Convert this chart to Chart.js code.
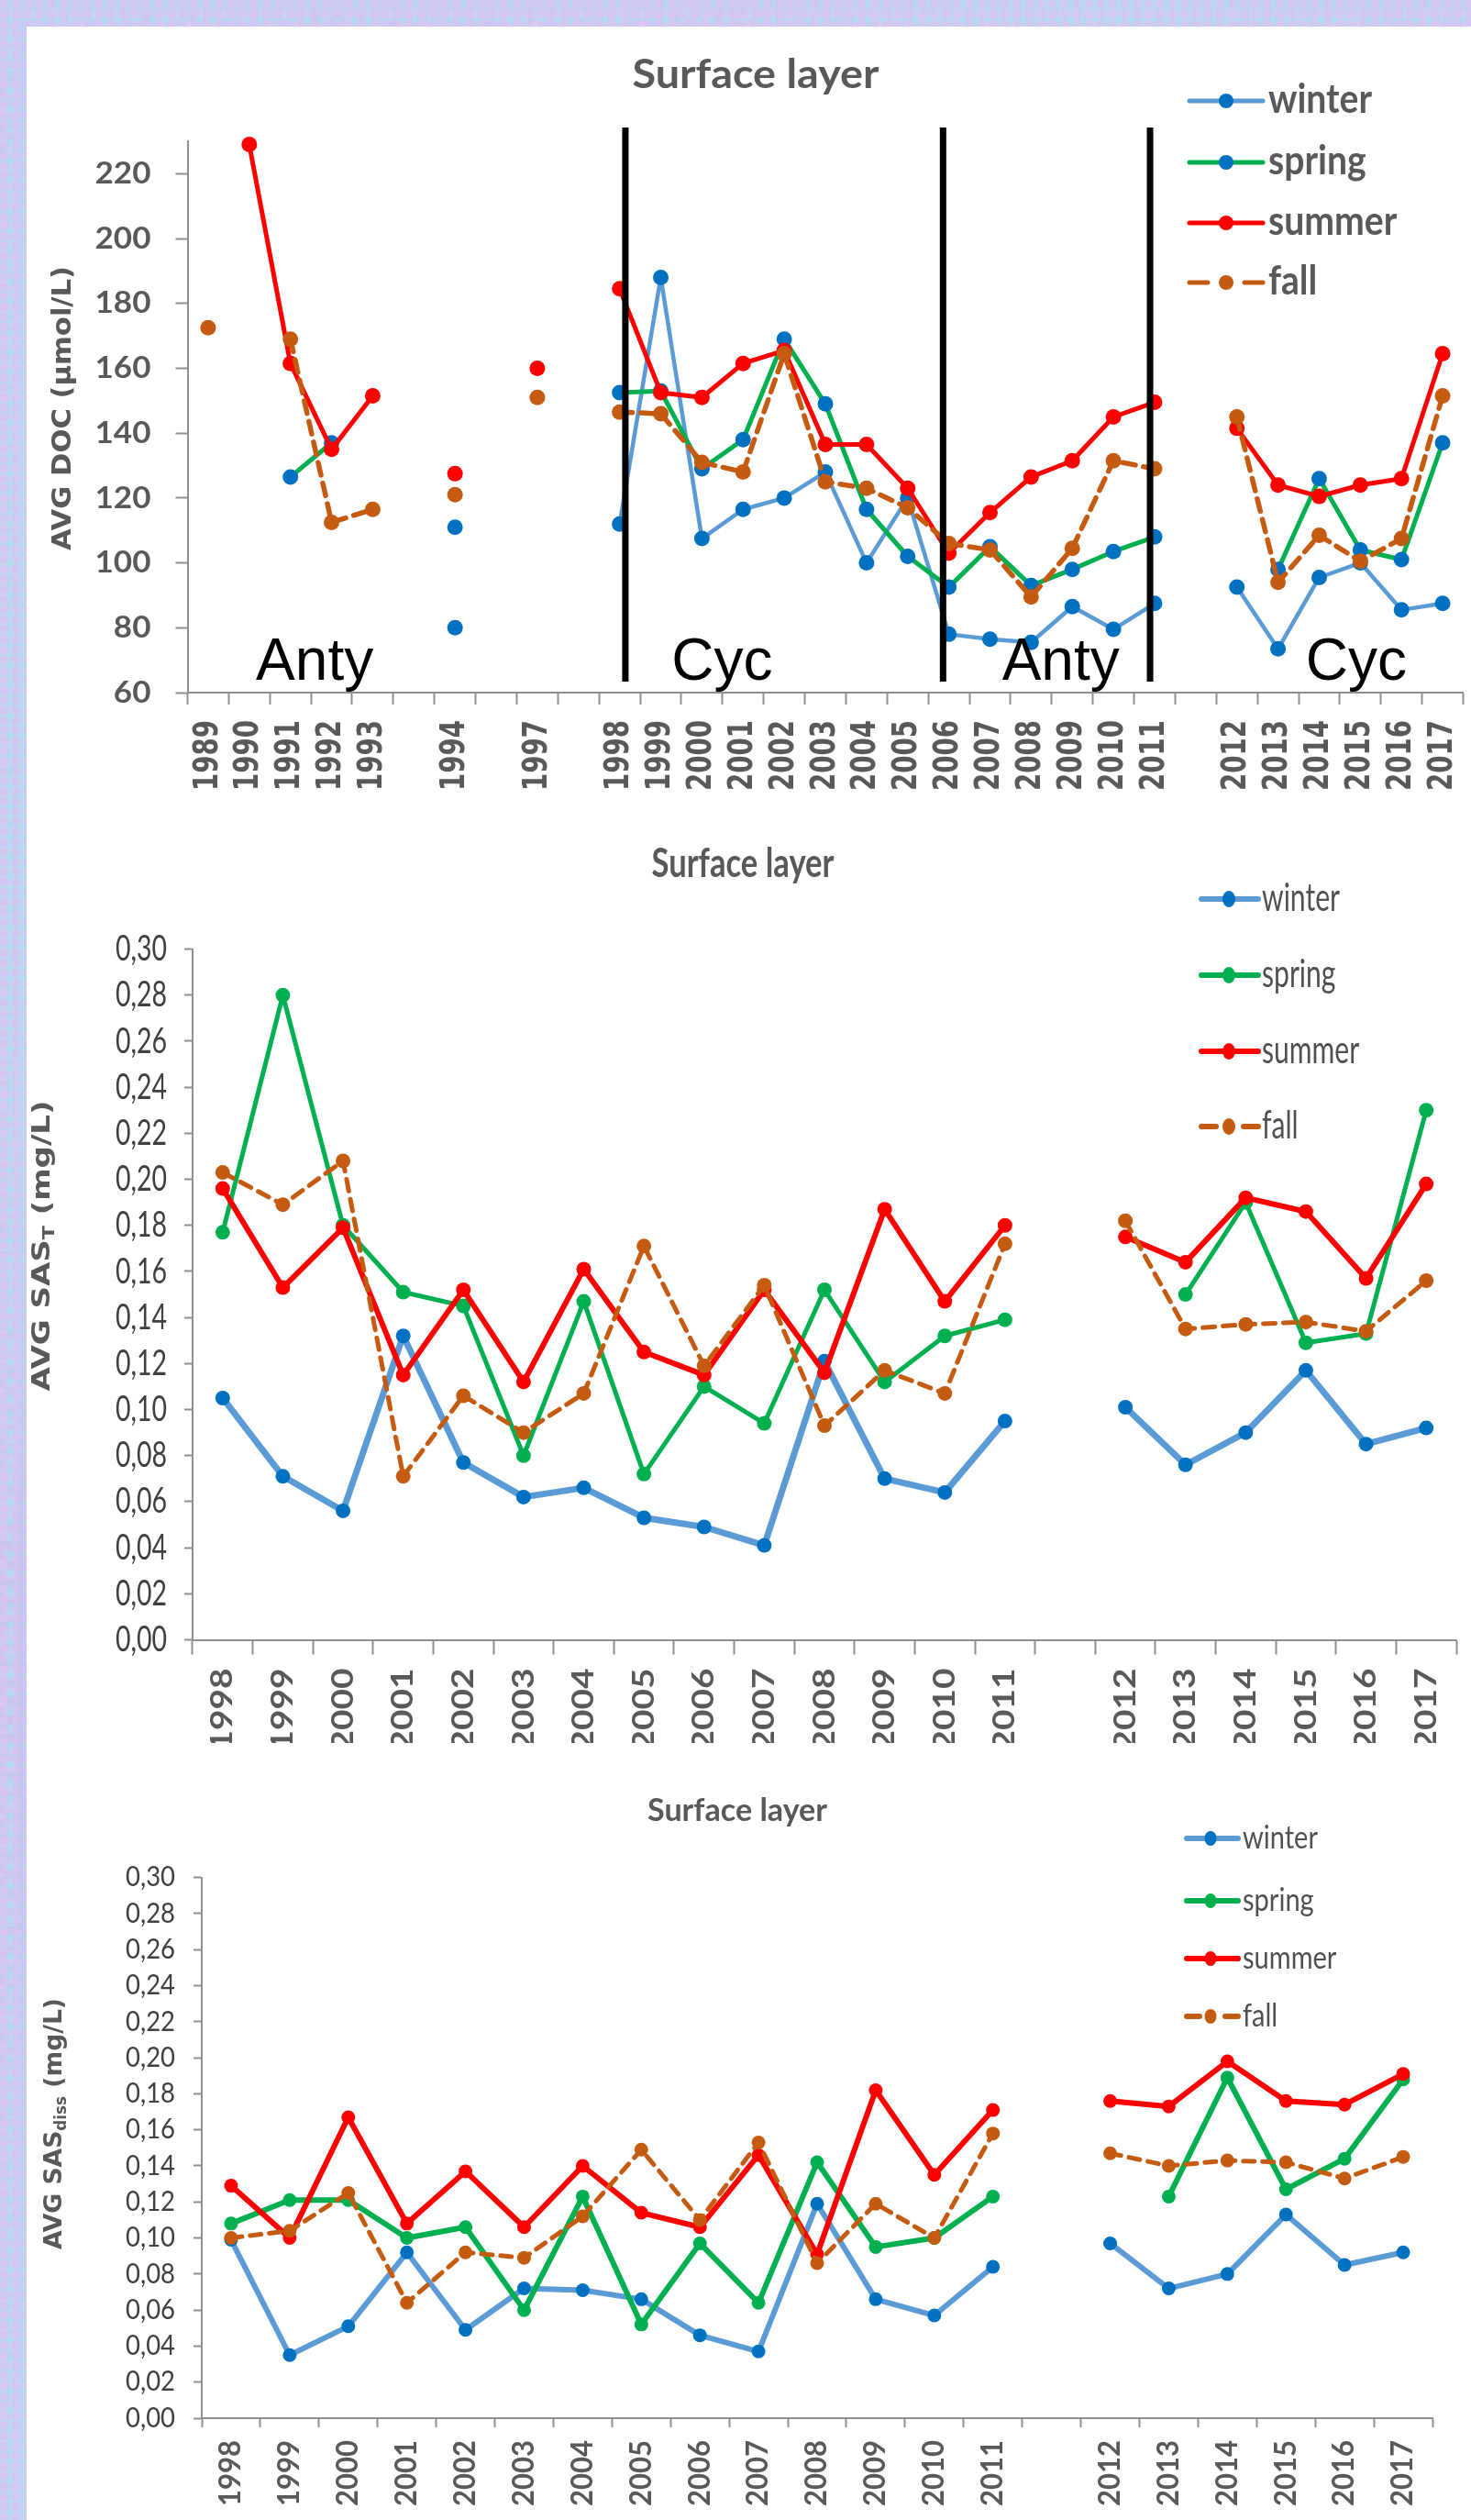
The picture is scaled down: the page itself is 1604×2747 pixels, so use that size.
<!DOCTYPE html>
<html>
<head>
<meta charset="utf-8">
<title>Surface layer – DOC and SAS</title>
<script src="https://cdn.jsdelivr.net/npm/chart.js@4.4.1/dist/chart.umd.min.js"></script>
<style>
  html, body { margin: 0; padding: 0; }
  body {
    width: 1604px; height: 2747px; position: relative; overflow: hidden;
    background-color: #bfd2f1;
    background-image:
      radial-gradient(circle at 30% 40%, rgba(214,196,242,.9) 0 3px, rgba(214,196,242,0) 7px),
      radial-gradient(circle at 70% 20%, rgba(168,224,242,.85) 0 2px, rgba(168,224,242,0) 6px),
      radial-gradient(circle at 50% 80%, rgba(196,212,250,.9) 0 4px, rgba(196,212,250,0) 9px),
      radial-gradient(circle at 10% 90%, rgba(228,206,242,.8) 0 2px, rgba(228,206,242,0) 5px),
      linear-gradient(90deg, rgba(190,210,245,.0) 0%, rgba(215,195,240,.5) 50%, rgba(180,225,240,.4) 75%, rgba(205,200,240,.5) 100%),
      linear-gradient(180deg, #c2cdf2 0%, #b9dcf0 35%, #c8c4ee 65%, #bcd6f2 100%);
    background-size: 13px 11px, 17px 19px, 23px 21px, 29px 31px, 100% 100%, 100% 100%;
  }
  #sheet { position: absolute; left: 29px; top: 29px; right: 0; bottom: 0; background: #ffffff; }
  canvas { position: absolute; left: 0; }
</style>
</head>
<body>
<div id="sheet"></div>
<canvas id="docChart" width="1604" height="900" style="top:0px"></canvas>
<canvas id="sasTChart" width="1604" height="1000" style="top:900px"></canvas>
<canvas id="sasDissChart" width="1604" height="847" style="top:1900px"></canvas>

<script>
// ---------- data ----------
// AVG DOC (µmol/L), surface layer; '' marks an empty slot on the axis
const docYears = ['1989','1990','1991','1992','1993','','1994','','1997','','1998','1999','2000','2001','2002','2003','2004','2005','2006','2007','2008','2009','2010','2011','','2012','2013','2014','2015','2016','2017'];
const docWinter = [null,null,null,null,null,null,80,null,null,null,112,188,107.5,116.5,120,128,100,120,78,76.5,75.5,86.5,79.5,87.5,null,92.5,73.5,95.5,100,85.5,87.5];
const docSpring = [null,null,126.5,137,null,null,111,null,null,null,152.5,153,129,138,169,149,116.5,102,92.5,105,93,98,103.5,108,null,null,98,126,104,101,137];
const docSummer = [null,229,161.5,135,151.5,null,127.5,null,160,null,184.5,152.5,151,161.5,165.5,136.5,136.5,123,103,115.5,126.5,131.5,145,149.5,null,141.5,124,120.5,124,126,164.5];
const docFall   = [172.5,null,169,112.5,116.5,null,121,null,151,null,146.5,146,131,128,164.5,125,123,117,106,104,89.5,104.5,131.5,129,null,145,94,108.5,100.5,107.5,151.5];

// period labels on the DOC panel
const periodNames = ['Anty','Cyc','Anty','Cyc'];

// SAS years
const sasYears = ['1998','1999','2000','2001','2002','2003','2004','2005','2006','2007','2008','2009','2010','2011','','2012','2013','2014','2015','2016','2017'];

// AVG SAS_T (mg/L)
const sasTWinter = [0.105,0.071,0.056,0.132,0.077,0.062,0.066,0.053,0.049,0.041,0.121,0.070,0.064,0.095,null,0.101,0.076,0.090,0.117,0.085,0.092];
const sasTSpring = [0.177,0.280,0.180,0.151,0.145,0.080,0.147,0.072,0.110,0.094,0.152,0.112,0.132,0.139,null,null,0.150,0.190,0.129,0.133,0.230];
const sasTSummer = [0.196,0.153,0.179,0.115,0.152,0.112,0.161,0.125,0.115,0.152,0.116,0.187,0.147,0.180,null,0.175,0.164,0.192,0.186,0.157,0.198];
const sasTFall   = [0.203,0.189,0.208,0.071,0.106,0.090,0.107,0.171,0.119,0.154,0.093,0.117,0.107,0.172,null,0.182,0.135,0.137,0.138,0.134,0.156];

// AVG SAS_diss (mg/L)
const sasDWinter = [0.099,0.035,0.051,0.092,0.049,0.072,0.071,0.066,0.046,0.037,0.119,0.066,0.057,0.084,null,0.097,0.072,0.080,0.113,0.085,0.092];
const sasDSpring = [0.108,0.121,0.121,0.100,0.106,0.060,0.123,0.052,0.097,0.064,0.142,0.095,0.100,0.123,null,null,0.123,0.189,0.127,0.144,0.188];
const sasDSummer = [0.129,0.100,0.167,0.108,0.137,0.106,0.140,0.114,0.106,0.146,0.091,0.182,0.135,0.171,null,0.176,0.173,0.198,0.176,0.174,0.191];
const sasDFall   = [0.100,0.104,0.125,0.064,0.092,0.089,0.112,0.149,0.110,0.153,0.086,0.119,0.100,0.158,null,0.147,0.140,0.143,0.142,0.133,0.145];

const seasons = ['winter','spring','summer','fall'];

// ---------- styling ----------
const lineColor = { winter: '#5B9BD5', spring: '#00B050', summer: '#FF0000', fall: '#C55A11' };
const drawOrder = { fall: 0, summer: 1, spring: 2, winter: 3 };
const AXIS = '#8f8f8f';
const INK = '#595959';

function seasonSets(series, st) {
  return seasons.map((s, i) => {
    const marker = st.marker[s];
    return {
      label: s,
      data: series[i],
      borderColor: lineColor[s],
      backgroundColor: marker,
      pointBackgroundColor: marker,
      pointBorderColor: marker,
      pointBorderWidth: 0,
      pointRadius: st.radius,
      pointHoverRadius: st.radius,
      borderWidth: st.width[s],
      borderDash: s === 'fall' ? st.dash : [],
      borderCapStyle: s === 'fall' ? 'round' : 'butt',
      borderJoinStyle: 'round',
      tension: 0,
      spanGaps: false,
      clip: false,
      order: drawOrder[s]
    };
  });
}

// ---------- text helpers ----------
function putText(ctx, text, x, y, o) {
  ctx.save();
  ctx.font = o.font;
  ctx.fillStyle = o.color || INK;
  ctx.textAlign = o.align || 'left';
  ctx.textBaseline = o.baseline || 'alphabetic';
  ctx.translate(x, y);
  if (o.rotate) ctx.rotate(o.rotate);
  ctx.scale(o.sx || 1, 1);
  ctx.fillText(text, 0, 0);
  ctx.restore();
}
function stretchFor(ctx, font, sample, width) {
  ctx.save();
  ctx.font = font;
  const w = ctx.measureText(sample).width;
  ctx.restore();
  return w > 0 ? width / w : 1;
}
// rotated axis title made of runs (main text + subscripts)
function putRotatedRuns(ctx, runs, cx, cy, length, color) {
  ctx.save();
  let total = 0;
  runs.forEach(r => { ctx.font = r.font; r.w = ctx.measureText(r.text).width; total += r.w; });
  ctx.translate(cx, cy);
  ctx.rotate(-Math.PI / 2);
  ctx.scale(length / total, 1);
  ctx.fillStyle = color;
  ctx.textBaseline = 'middle';
  ctx.textAlign = 'left';
  let x = -total / 2;
  runs.forEach(r => { ctx.font = r.font; ctx.fillText(r.text, x, r.shift || 0); x += r.w; });
  ctx.restore();
}

// ---------- overlay plugin: titles, tick labels, legend ----------
function panelText(cfg) {
  return {
    id: 'panelText_' + cfg.key,
    afterDraw(chart) {
      const ctx = chart.ctx;
      const xs = chart.scales.x, ys = chart.scales.y;
      const area = chart.chartArea;

      // y tick labels
      const ySx = stretchFor(ctx, cfg.yTick.font, cfg.yTick.sample, cfg.yTick.width);
      ys.ticks.forEach(t => {
        putText(ctx, cfg.yTick.format(t.value), area.left - cfg.yTick.gap, ys.getPixelForValue(t.value),
          { font: cfg.yTick.font, color: cfg.yTick.color, align: 'right', baseline: 'middle', sx: ySx });
      });

      // x tick labels (rotated, reading upward)
      const xSx = stretchFor(ctx, cfg.xTick.font, cfg.xTick.sample, cfg.xTick.length);
      const labels = chart.data.labels;
      xs.ticks.forEach(t => {
        const lab = labels[t.value];
        if (!lab) return;
        putText(ctx, lab, xs.getPixelForValue(t.value), area.bottom + cfg.xTick.gap,
          { font: cfg.xTick.font, color: cfg.xTick.color, align: 'right', baseline: 'middle', rotate: -Math.PI / 2, sx: xSx });
      });

      // y axis title
      putRotatedRuns(ctx, cfg.yTitle.runs, cfg.yTitle.x, cfg.yTitle.y, cfg.yTitle.length, INK);

      // chart title
      const tSx = stretchFor(ctx, cfg.title.font, cfg.title.text, cfg.title.width);
      putText(ctx, cfg.title.text, cfg.title.x, cfg.title.y, { font: cfg.title.font, align: 'center', sx: tSx });

      // legend
      const lg = cfg.legend;
      const lSx = stretchFor(ctx, lg.font, chart.data.datasets[0].label, lg.sampleWidth);
      const byLabel = {};
      chart.data.datasets.forEach(d => { byLabel[d.label] = d; });
      seasons.forEach((s, i) => {
        const d = byLabel[s];
        const y = lg.ys[i];
        ctx.save();
        ctx.strokeStyle = d.borderColor;
        ctx.lineWidth = lg.lineWidth;
        ctx.lineCap = 'round';
        ctx.beginPath();
        if (d.borderDash && d.borderDash.length) {
          ctx.moveTo(lg.x0, y); ctx.lineTo(lg.x0 + lg.dashLen, y);
          ctx.moveTo(lg.x1 - lg.dashLen, y); ctx.lineTo(lg.x1, y);
        } else {
          ctx.moveTo(lg.x0, y); ctx.lineTo(lg.x1, y);
        }
        ctx.stroke();
        ctx.fillStyle = d.pointBackgroundColor;
        ctx.beginPath();
        ctx.ellipse(lg.xm, y, lg.mrx, lg.mry, 0, 0, Math.PI * 2);
        ctx.fill();
        ctx.restore();
        putText(ctx, s, lg.xt, y + lg.baseShift, { font: lg.font, color: lg.color, sx: lSx });
      });

      if (cfg.extra) cfg.extra(chart);
    }
  };
}

// period boundaries and names on the DOC panel
function docPeriods(chart) {
  const ctx = chart.ctx;
  const xs = chart.scales.x, ys = chart.scales.y;
  const area = chart.chartArea;
  const breaks = [10.14, 17.86, 22.89];          // category positions of the boundaries
  const namePos = [2.59, 12.49, 20.72, 27.9];    // category positions of the period names
  ctx.save();
  ctx.strokeStyle = '#000000';
  ctx.lineWidth = 7;
  breaks.forEach(b => {
    const x = xs.getPixelForValue(b);
    ctx.beginPath();
    ctx.moveTo(x, area.top - 15);
    ctx.lineTo(x, area.bottom - 12);
    ctx.stroke();
  });
  ctx.restore();
  periodNames.forEach((n, i) => {
    putText(ctx, n, xs.getPixelForValue(namePos[i]), ys.getPixelForValue(64),
      { font: '64px "Liberation Sans", Arial, sans-serif', color: '#000000', align: 'center' });
  });
}

// ---------- chart builder ----------
function buildChart(id, o) {
  const el = document.getElementById(id);
  return new Chart(el, {
    type: 'line',
    data: { labels: o.labels, datasets: o.datasets },
    options: {
      responsive: false,
      maintainAspectRatio: false,
      animation: false,
      devicePixelRatio: 1,
      events: [],
      layout: { padding: { top: o.area.top, right: el.width - o.area.right, left: 0, bottom: 0 } },
      plugins: { legend: { display: false }, title: { display: false }, tooltip: { enabled: false } },
      scales: {
        x: {
          type: 'category',
          offset: true,
          grid: { offset: true, drawOnChartArea: false, drawTicks: true, tickLength: o.xTickLen, tickColor: AXIS, tickWidth: 2 },
          border: { display: true, color: AXIS, width: 2 },
          ticks: { display: false, autoSkip: false },
          afterFit(s) { s.height = el.height - o.area.bottom; }
        },
        y: {
          type: 'linear',
          min: o.yMin, max: o.yMax,
          grid: { drawOnChartArea: false, drawTicks: true, tickLength: o.yTickLen, tickColor: AXIS, tickWidth: 2 },
          border: { display: true, color: AXIS, width: 2 },
          ticks: { display: false, stepSize: o.yStep, includeBounds: false },
          afterFit(s) { s.width = o.area.left; }
        }
      }
    },
    plugins: [o.overlay]
  });
}

const comma2 = v => v.toFixed(2).replace('.', ',');

// ---------- panel 1: DOC ----------
buildChart('docChart', {
  labels: docYears,
  datasets: seasonSets([docWinter, docSpring, docSummer, docFall], {
    marker: { winter: '#0070C0', spring: '#0070C0', summer: '#FF0000', fall: '#C55A11' },
    width: { winter: 4.5, spring: 5, summer: 5, fall: 5.5 },
    dash: [14, 9], radius: 8.5
  }),
  area: { left: 204.5, right: 1602, top: 154, bottom: 755 },
  yMin: 60, yMax: 230, yStep: 20, xTickLen: 13, yTickLen: 13,
  overlay: panelText({
    key: 'doc',
    yTick: { font: 'bold 33px Lato, sans-serif', sample: '220', width: 61, gap: 40, color: INK, format: v => String(v) },
    xTick: { font: 'bold 37px "DejaVu Sans", sans-serif', sample: '1989', length: 77, gap: 30, color: INK },
    yTitle: { runs: [{ text: 'AVG DOC (μmol/L)', font: 'bold 28px "DejaVu Sans", sans-serif' }], x: 70, y: 445, length: 310 },
    title: { text: 'Surface layer', font: 'bold 43px Lato, sans-serif', x: 824, y: 96, width: 269 },
    legend: { font: 'bold 43px Lato, sans-serif', color: INK, sampleWidth: 113,
      x0: 1297, x1: 1377, xm: 1337, xt: 1383, ys: [110, 177, 243, 308], baseShift: 13,
      lineWidth: 5, dashLen: 20, mrx: 8, mry: 8 },
    extra: docPeriods
  })
});

// ---------- panel 2: SAS_T ----------
buildChart('sasTChart', {
  labels: sasYears,
  datasets: seasonSets([sasTWinter, sasTSpring, sasTSummer, sasTFall], {
    marker: { winter: '#0070C0', spring: '#00B050', summer: '#FF0000', fall: '#C55A11' },
    width: { winter: 7, spring: 5, summer: 6, fall: 5 },
    dash: [13, 9], radius: 8
  }),
  area: { left: 210, right: 1588, top: 134.6, bottom: 887.5 },
  yMin: 0, yMax: 0.30, yStep: 0.02, xTickLen: 16, yTickLen: 9,
  overlay: panelText({
    key: 'sasT',
    yTick: { font: '39px Lato, sans-serif', sample: '0,26', width: 56, gap: 28, color: '#404040', format: comma2 },
    xTick: { font: 'bold 33px Lato, sans-serif', sample: '1998', length: 90, gap: 31, color: INK },
    yTitle: { runs: [
      { text: 'AVG SAS', font: 'bold 26px "DejaVu Sans", sans-serif' },
      { text: 'T', font: 'bold 17px "DejaVu Sans", sans-serif', shift: 8 },
      { text: ' (mg/L)', font: 'bold 26px "DejaVu Sans", sans-serif' }
    ], x: 47, y: 458, length: 317 },
    title: { text: 'Surface layer', font: 'bold 44px Lato, sans-serif', x: 810, y: 56, width: 199 },
    legend: { font: '43px Lato, sans-serif', color: '#505050', sampleWidth: 85,
      x0: 1310, x1: 1372, xm: 1340, xt: 1376, ys: [80, 163, 246, 328], baseShift: 13,
      lineWidth: 6, dashLen: 16, mrx: 7, mry: 9 }
  })
});

// ---------- panel 3: SAS_diss ----------
buildChart('sasDissChart', {
  labels: sasYears,
  datasets: seasonSets([sasDWinter, sasDSpring, sasDSummer, sasDFall], {
    marker: { winter: '#0070C0', spring: '#00B050', summer: '#FF0000', fall: '#C55A11' },
    width: { winter: 6, spring: 6, summer: 6, fall: 5 },
    dash: [12, 9], radius: 7.5
  }),
  area: { left: 220, right: 1562, top: 146.7, bottom: 736 },
  yMin: 0, yMax: 0.30, yStep: 0.02, xTickLen: 10, yTickLen: 9,
  overlay: panelText({
    key: 'sasD',
    yTick: { font: '30px Lato, sans-serif', sample: '0,00', width: 54, gap: 29, color: '#404040', format: comma2 },
    xTick: { font: 'bold 32px Lato, sans-serif', sample: '1998', length: 72, gap: 24, color: INK },
    yTitle: { runs: [
      { text: 'AVG SAS', font: 'bold 27px "DejaVu Sans", sans-serif' },
      { text: 'diss', font: 'bold 17px "DejaVu Sans", sans-serif', shift: 8 },
      { text: ' (mg/L)', font: 'bold 27px "DejaVu Sans", sans-serif' }
    ], x: 60, y: 415, length: 274 },
    title: { text: 'Surface layer', font: 'bold 35px Lato, sans-serif', x: 804, y: 85, width: 196 },
    legend: { font: '35px Lato, sans-serif', color: '#505050', sampleWidth: 82,
      x0: 1294, x1: 1350, xm: 1320, xt: 1355, ys: [104, 172, 235, 298], baseShift: 11,
      lineWidth: 6, dashLen: 14, mrx: 6.5, mry: 8 }
  })
});
</script>
</body>
</html>
